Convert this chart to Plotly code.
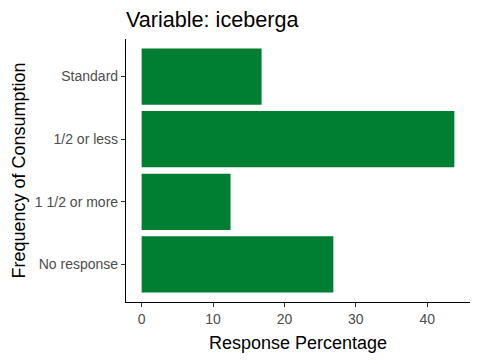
import plotly.graph_objects as go

categories = ["No response", "1 1/2 or more", "1/2 or less", "Standard"]
values = [26.85, 12.45, 43.8, 16.8]
x_ticks = [0, 10, 20, 30, 40]

fig = go.Figure(go.Bar(
    x=values, y=categories, orientation="h",
    marker=dict(color="#007f32", line=dict(width=0)),
    width=0.9,
))

W, H = 480, 360
L, R, T, B = 126, 10, 39, 58

fig.update_layout(
    width=W, height=H,
    margin=dict(l=L, r=R, t=T, b=B, autoexpand=False),
    plot_bgcolor="white", paper_bgcolor="white",
    font=dict(family="Liberation Sans, Arial, sans-serif"),
    title=dict(text="Variable: iceberga", x=L/W, xanchor="left",
               y=1-19/H, yanchor="middle",
               font=dict(size=21.6, color="black")),
    showlegend=False,
    bargap=0.1,
    annotations=[
        dict(text="Response Percentage", xref="paper", yref="paper",
             x=(298-L)/(W-L-R), y=-(343-(H-B))/(H-T-B),
             xanchor="center", yanchor="middle", showarrow=False,
             font=dict(size=18, color="black")),
        dict(text="Frequency of Consumption", xref="paper", yref="paper",
             x=-(L-18)/(W-L-R), y=0.5, textangle=-90,
             xanchor="center", yanchor="middle", showarrow=False,
             font=dict(size=18, color="black")),
    ],
)
fig.update_xaxes(
    range=[-2.19, 45.99], tickvals=x_ticks, showgrid=False, zeroline=False,
    showline=True, linecolor="black", linewidth=1.2, automargin=False,
    ticks="outside", ticklen=4, tickcolor="#333333",
    tickfont=dict(size=14, color="#4d4d4d"),
)
fig.update_yaxes(
    categoryorder="array", categoryarray=categories, range=[-0.6, 3.6],
    showgrid=False, zeroline=False, automargin=False,
    showline=True, linecolor="black", linewidth=1.2,
    ticks="outside", ticklen=4, tickcolor="#333333",
    tickfont=dict(size=14, color="#4d4d4d"),
)

fig.write_html("out.html", config={"displayModeBar": False},
               post_script="document.body.style.margin='0';document.body.style.overflow='hidden';")
